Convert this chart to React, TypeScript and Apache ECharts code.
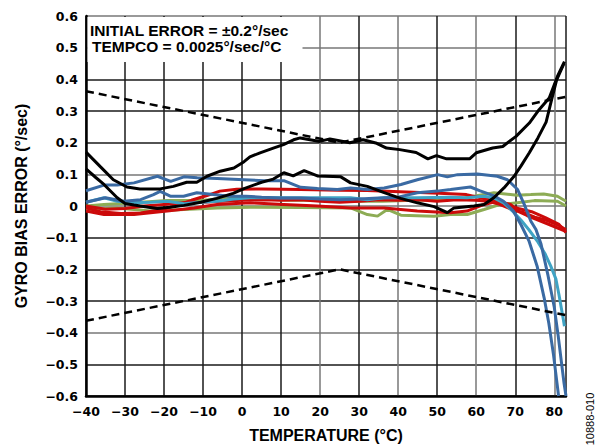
import React, { useEffect, useRef } from "react";
import * as echarts from "echarts";

// Temperature (°C), gyro bias error (°/sec)
const upperLimit = [[-40, 0.3625], [25, 0.2], [83, 0.345]];
const lowerLimit = [[-40, -0.3625], [25, -0.2], [83, -0.345]];

const blackUpper = [[-40,0.17],[-36.4,0.125],[-33,0.083],[-29.5,0.06],[-26.2,0.054],[-21,0.054],[-17.6,0.062],[-14.2,0.075],[-11.6,0.075],[-9,0.094],[-5.6,0.11],[-2.1,0.12],[0.5,0.14],[2,0.155],[4.6,0.168],[8,0.183],[10.6,0.194],[13.2,0.209],[14.9,0.215],[19.9,0.204],[22.5,0.212],[27.6,0.2],[31,0.209],[34.5,0.198],[37,0.183],[40.4,0.178],[44.6,0.169],[47.6,0.149],[49.8,0.159],[52.4,0.149],[58.3,0.149],[60,0.168],[64.2,0.183],[66.8,0.188],[70.2,0.22],[73.6,0.262],[76.1,0.304],[78.7,0.341],[80.8,0.409],[82.6,0.456]];
const blackLower = [[-40,0.117],[-37.5,0.09],[-35.4,0.068],[-32,0.026],[-30,0.008],[-27.7,0.003],[-24,-0.004],[-21.7,-0.008],[-18.5,-0.004],[-14.9,0.002],[-10.6,0.012],[-6.5,0.024],[-2.3,0.04],[0.5,0.055],[5,0.075],[8,0.085],[10.7,0.105],[13.1,0.095],[15.9,0.112],[19.3,0.095],[25.3,0.092],[27.8,0.073],[32.1,0.062],[36.4,0.042],[40.6,0.024],[44.9,0.01],[49.2,-0.002],[52.6,-0.021],[54.3,-0.006],[59.4,0.0],[62,0.005],[64.5,0.026],[67.1,0.057],[69.7,0.094],[71.4,0.125],[73.6,0.168],[75.8,0.215],[77.9,0.265],[79.3,0.335],[80.6,0.398],[82.5,0.45]];

const blueUpper = [[-40,0.048],[-35.4,0.066],[-32,0.066],[-27.7,0.073],[-21.7,0.094],[-18.3,0.078],[-14.9,0.092],[-11.5,0.089],[-6.4,0.087],[0.5,0.083],[5.6,0.08],[10.7,0.08],[15,0.059],[19.3,0.055],[24.4,0.052],[27.8,0.057],[32.1,0.052],[36.4,0.057],[40.7,0.068],[44.9,0.083],[50.1,0.099],[52.6,0.092],[55.2,0.099],[60.3,0.101],[65.4,0.094],[68,0.083],[70.6,0.052],[72.3,0.005],[74,-0.048],[75.3,-0.074],[76.6,-0.12],[78.4,-0.22],[80,-0.32],[81,-0.41],[81.9,-0.5],[82.5,-0.56],[83,-0.6]];
const blueLower = [[-40,0.012],[-35,0.026],[-30.3,0.015],[-26,0.02],[-22.7,0.036],[-21,0.046],[-18.4,0.031],[-15,0.031],[-11.6,0.042],[-7.4,0.036],[-3.2,0.031],[1,0.031],[5,0.028],[10,0.025],[15,0.025],[20,0.022],[25,0.02],[30,0.022],[35,0.025],[40,0.028],[44.9,0.042],[50,0.047],[53.4,0.052],[58.5,0.06],[61,0.048],[64.4,0.033],[67,0.015],[69.5,-0.016],[71.5,-0.06],[73.5,-0.11],[75.6,-0.19],[77.4,-0.29],[78.6,-0.37],[79.8,-0.47],[80.7,-0.56],[81.1,-0.6]];
const cyan = [[-40,0.012],[-35.4,0.026],[-32,0.015],[-27.7,0.01],[-23.4,0.012],[-19.2,0.015],[-14.9,0.007],[-12.3,0.01],[-6.4,0.015],[-2.1,0.022],[2.1,0.026],[10.7,0.026],[19.3,0.026],[27.8,0.026],[32.1,0.02],[36.4,0.026],[44.9,0.026],[53.4,0.028],[57.6,0.026],[61.9,0.031],[64.4,0.026],[67,0.01],[69.3,-0.016],[71.5,-0.045],[73.5,-0.075],[75.6,-0.11],[77.6,-0.15],[79.1,-0.19],[80.4,-0.23],[81.2,-0.28],[82.2,-0.35],[82.6,-0.38]];

const redA = [[-40,-0.006],[-36.3,-0.018],[-31,-0.024],[-26,-0.022],[-20,-0.01],[-16,0.005],[-13,0.018],[-9,0.033],[-5.7,0.047],[-1.4,0.053],[5,0.054],[15,0.052],[25,0.05],[32,0.049],[40.5,0.045],[50.5,0.04],[57.5,0.036],[62.5,0.022],[66.5,0.01],[70.8,-0.008],[74.2,-0.018],[77.7,-0.037],[81.2,-0.058],[83,-0.084]];
const redB = [[-40,0.0],[-35,-0.01],[-30,-0.008],[-25,0.0],[-20,0.005],[-15,0.01],[-10,0.012],[-5,0.015],[0,0.018],[5,0.02],[10,0.018],[15,0.02],[20,0.015],[25,0.012],[30,0.015],[35,0.02],[40,0.018],[45,0.02],[50,0.015],[55,0.02],[60,0.018],[63,0.015],[66,0.005],[69,-0.01],[72,-0.02],[75,-0.035],[78,-0.045],[81,-0.06],[83,-0.075]];
const redC = [[-40,-0.016],[-35.4,-0.027],[-27.7,-0.027],[-19.2,-0.016],[-12.3,-0.006],[-6.4,0.005],[2.1,0.01],[10.7,0.005],[19.3,0.0],[27.8,-0.006],[36.4,-0.006],[44.9,-0.016],[53.4,-0.021],[57.6,-0.016],[62,0.005],[65.4,0.015],[68.8,0.005],[70.6,-0.016],[73,-0.03],[76,-0.045],[79,-0.06],[82,-0.075],[83,-0.08]];
const greenA = [[-40,0.0],[-35.4,0.005],[-27.7,0.01],[-19.2,0.017],[-10.7,0.017],[-2.1,0.026],[2.1,0.028],[6,0.022],[12,0.018],[20,0.018],[28,0.015],[36,0.015],[44,0.018],[52,0.02],[57,0.025],[61.9,0.036],[64.5,0.042],[70.5,0.034],[74,0.036],[77.3,0.038],[80.8,0.031],[83,0.015]];
const greenB = [[-40,-0.011],[-32,-0.006],[-23.4,-0.016],[-14.9,-0.011],[-6.4,-0.006],[2.1,-0.004],[15,-0.005],[27.8,-0.006],[32.1,-0.027],[34.7,-0.032],[37.2,-0.011],[40.7,-0.029],[49.2,-0.032],[53.4,-0.027],[57.7,-0.027],[62,-0.011],[66.2,0.005],[70.5,0.01],[74.9,0.017],[80.8,0.015],[83,0.0]];

const annotationLines = ["INITIAL ERROR = \u00b10.2\u00b0/sec", "TEMPCO = 0.0025\u00b0/sec/\u00b0C"];
const xTitle = "TEMPERATURE (\u00b0C)";
const yTitle = "GYRO BIAS ERROR (\u00b0/sec)";
const figureId = "10888-010";

const K = "#1a1a1a";
const G = "#777777";
const xSplitColors = [K, K, K, K, K, K, G, K, G, K, G, K, G, K];
const ySplitColors = [K, K, G, K, K, K, G, G, K, K, K, G, G];

const tickFont = { fontFamily: "DejaVu Sans", fontWeight: "bold" as const, fontSize: 12.5, color: "#000" };
const titleFont = { fontFamily: "Liberation Sans", fontWeight: "bold" as const, fontSize: 16, color: "#000" };

function fmt(v: number, dec: number) {
  const r = Math.round(v * 1000) / 1000;
  if (r === 0) return "0";
  return (r < 0 ? "\u2212" : "") + Math.abs(r).toFixed(dec);
}

function line(data: number[][], color: string, width = 3, dashed = false) {
  return {
    type: "line",
    data,
    symbol: "none",
    smooth: false,
    lineStyle: dashed ? { color, width, type: [8, 5] } : { color, width },
    emphasis: { disabled: true },
  };
}

export default function App() {
  const ref = useRef<HTMLDivElement>(null);
  useEffect(() => {
    const chart = echarts.init(ref.current!, null, { renderer: "svg" });
    chart.setOption({
      animation: false,
      backgroundColor: "#fff",
      grid: { left: 86, right: 39, top: 16, bottom: 51, containLabel: false },
      xAxis: {
        type: "value",
        min: -40,
        max: 83,
        interval: 10,
        name: xTitle,
        nameLocation: "middle",
        nameGap: 31,
        nameTextStyle: titleFont,
        axisLine: { show: true, onZero: false, lineStyle: { color: "#000", width: 2.5 } },
        axisTick: { show: false },
        axisLabel: { ...tickFont, margin: 9, showMaxLabel: false, formatter: (v: number) => (v > 80 ? "" : fmt(v, 0)) },
        splitLine: { show: true, lineStyle: { color: xSplitColors, width: 1.5 } },
      },
      yAxis: {
        type: "value",
        min: -0.6,
        max: 0.6,
        interval: 0.1,
        name: yTitle,
        nameLocation: "middle",
        nameGap: 57,
        nameRotate: 90,
        nameTextStyle: titleFont,
        axisLine: { show: true, onZero: false, lineStyle: { color: "#000", width: 2.5 } },
        axisTick: { show: false },
        axisLabel: { ...tickFont, margin: 8, formatter: (v: number) => fmt(v, 1) },
        splitLine: { show: true, lineStyle: { color: ySplitColors, width: 1.5 } },
      },
      graphic: [
        { type: "rect", z: 5, shape: { x: 87.5, y: 17, width: 215, height: 45 }, style: { fill: "#fff" } },
        { type: "text", z: 6, x: 90, y: 30.8, style: { text: annotationLines[0], fontFamily: "Liberation Sans", fontWeight: "bold", fontSize: 15.5, fill: "#000", verticalAlign: "middle" } },
        { type: "text", z: 6, x: 92, y: 46.6, style: { text: annotationLines[1], fontFamily: "Liberation Sans", fontWeight: "bold", fontSize: 15.5, fill: "#000", verticalAlign: "middle" } },
        { type: "text", z: 6, x: 590, y: 419, rotation: Math.PI / 2, style: { text: figureId, fontFamily: "Liberation Sans", fontSize: 11, fill: "#000", align: "center", verticalAlign: "middle" } },
      ],
      series: [
        line(greenB, "#8dac55"),
        line(greenA, "#8dac55"),
        line(redC, "#cc0a0a"),
        line(redB, "#cc0a0a"),
        line(redA, "#cc0a0a"),
        line(cyan, "#3fa3c4"),
        line(blueLower, "#3a6aa3"),
        line(blueUpper, "#3a6aa3"),
        line(blackLower, "#000"),
        line(blackUpper, "#000"),
        line(upperLimit, "#000", 2.5, true),
        line(lowerLimit, "#000", 2.5, true),
      ],
    });
    return () => chart.dispose();
  }, []);
  return <div ref={ref} style={{ position: "fixed", left: 0, top: 0, width: 605, height: 448 }} />;
}
